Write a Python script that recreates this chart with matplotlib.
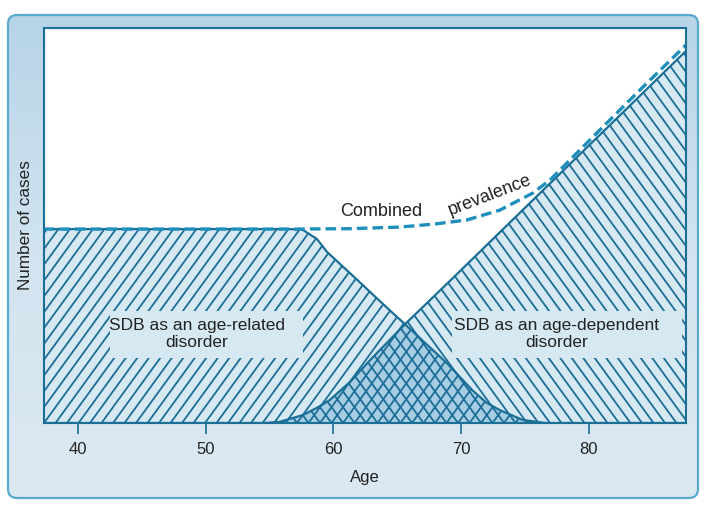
import numpy as np
import matplotlib
matplotlib.use("Agg")
import matplotlib.pyplot as plt
from matplotlib.patches import Polygon, FancyBboxPatch, Rectangle
from matplotlib.collections import LineCollection
from matplotlib.colors import LinearSegmentedColormap

plt.rcParams['font.family'] = ['Liberation Sans', 'DejaVu Sans']

# ---------------- data ----------------
related_age = [37.3, 50.0, 56.6, 57.6, 58.7, 59.5, 60.5, 61.84, 63.09, 64.42, 65.6,
               68.9, 70.9, 72.0, 73.0, 74.8, 76.6, 87.6]
related_val = [4.91, 4.91, 4.91, 4.89, 4.66, 4.33, 4.03, 3.63, 3.25, 2.85, 2.50,
               1.51, 0.82, 0.51, 0.33, 0.08, 0.0, 0.0]

dependent_age = [37.3, 54.6, 55.8, 57.6, 58.8, 59.7, 61.3, 62.86, 65.6, 69.35, 87.6]
dependent_val = [0.0, 0.0, 0.03, 0.20, 0.40, 0.58, 1.04, 1.59, 2.50, 3.67, 9.42]

combined_age = [37.3, 57.4, 61.3, 65.2, 68.0, 70.45, 73.03, 75.6, 76.95, 80.86, 83.99, 87.6]
combined_val = [4.91, 4.91, 4.92, 4.96, 5.04, 5.14, 5.39, 5.82, 6.15, 7.42, 8.43, 9.57]

x_ticks = [40, 50, 60, 70, 80]
x_tick_labels = ['40', '50', '60', '70', '80']

# ---------------- styling ----------------
DARK = '#1b6e96'
DASH = '#1e90bb'
LIGHT_FILL = '#d6e9f3'
OVERLAP_FILL = '#a6cde2'
TEXT = '#222222'

W_PX, H_PX = 704, 518
fig = plt.figure(figsize=(W_PX / 100, H_PX / 100), dpi=100)

# background panel with gradient
bg = fig.add_axes([0, 0, 1, 1])
bg.set_xlim(0, W_PX)
bg.set_ylim(H_PX, 0)
bg.axis('off')
panel = FancyBboxPatch((8, 15), 690, 483, boxstyle="round,pad=0,rounding_size=9",
                       facecolor='none', edgecolor='#5aaad0', linewidth=1.6, zorder=3)
bg.add_patch(panel)
cmap = LinearSegmentedColormap.from_list('g', ['#b7d4e8', '#d2e4f0', '#dbe9f2'])
grad = np.linspace(0, 1, 256).reshape(-1, 1)
im = bg.imshow(grad, cmap=cmap, extent=(8, 698, 498, 15), aspect='auto', zorder=1)
clip = FancyBboxPatch((8, 15), 690, 483, boxstyle="round,pad=0,rounding_size=9",
                      facecolor='none', edgecolor='none', transform=bg.transData)
im.set_clip_path(clip)

# main axes
ax_l, ax_r, ax_t, ax_b = 44, 686, 28, 423
ax = fig.add_axes([ax_l / W_PX, 1 - ax_b / H_PX, (ax_r - ax_l) / W_PX, (ax_b - ax_t) / H_PX])
ax.set_facecolor('white')
ax.set_xlim(37.34, 87.6)
ax.set_ylim(0, 10)
AXW, AXH = ax_r - ax_l, ax_b - ax_t


def area_patch(xs, ys, fc, z):
    verts = [(xs[0], 0)] + list(zip(xs, ys)) + [(xs[-1], 0)]
    p = Polygon(verts, closed=True, facecolor=fc, edgecolor='none', zorder=z)
    ax.add_patch(p)
    return p


def hatch(patch, angle_deg, spacing, z):
    a = np.deg2rad(angle_deg)
    dx = AXH / np.tan(a)
    segs = []
    for k in range(-80, 140):
        x0 = k * spacing
        segs.append([(x0 / AXW, 0), ((x0 + dx) / AXW, 1)])
    lc = LineCollection(segs, colors=DARK, linewidths=1.3, transform=ax.transAxes, zorder=z)
    lc.set_clip_path(patch)
    ax.add_collection(lc)


rel = area_patch(related_age, related_val, LIGHT_FILL, 1)
dep = area_patch(dependent_age, dependent_val, LIGHT_FILL, 1)

# overlap region (min of both curves) drawn from the two series
ov_x = sorted(set(related_age) | set(dependent_age))
ov_y = np.minimum(np.interp(ov_x, related_age, related_val), np.interp(ov_x, dependent_age, dependent_val))
ov = area_patch(ov_x, ov_y, OVERLAP_FILL, 2)

hatch(rel, 54, 11.5, 3)
hatch(dep, 126, 11.5, 3)

ax.plot(related_age, related_val, color=DARK, lw=1.6, zorder=4, solid_joinstyle='round')
ax.plot(dependent_age, dependent_val, color=DARK, lw=1.6, zorder=4, solid_joinstyle='round')
ax.plot(combined_age, combined_val, color=DASH, lw=2.4, dashes=(3.2, 1.5), zorder=5)

# label boxes
for (x0, x1) in [(110, 303), (452, 682)]:
    ax.add_patch(Rectangle(((x0 - ax_l) / AXW, (ax_b - 358) / AXH), (x1 - x0) / AXW, 47 / AXH,
                           transform=ax.transAxes, facecolor=LIGHT_FILL, edgecolor='none', zorder=6))
ax.text((197 - ax_l) / AXW, (ax_b - 334) / AXH, 'SDB as an age-related\ndisorder', transform=ax.transAxes,
        ha='center', va='center', fontsize=12.5, color=TEXT, zorder=7, linespacing=1.12)
ax.text((557 - ax_l) / AXW, (ax_b - 334) / AXH, 'SDB as an age-dependent\ndisorder', transform=ax.transAxes,
        ha='center', va='center', fontsize=12.5, color=TEXT, zorder=7, linespacing=1.12)

ax.text((381 - ax_l) / AXW, (ax_b - 211) / AXH, 'Combined', transform=ax.transAxes,
        ha='center', va='center', fontsize=13, color=TEXT, zorder=7)
ax.text((490 - ax_l) / AXW, (ax_b - 195) / AXH, 'prevalence', transform=ax.transAxes,
        ha='center', va='center', fontsize=13, color=TEXT, rotation=21, zorder=7)

# axes styling
for s in ax.spines.values():
    s.set_color(DARK)
    s.set_linewidth(1.5)
    s.set_zorder(8)
ax.set_xticks(x_ticks)
ax.set_xticklabels(x_tick_labels)
ax.set_yticks([])
ax.tick_params(axis='x', direction='out', length=8, width=1.2, color=DARK, labelsize=12,
               labelcolor=TEXT, pad=6)
ax.set_xlabel('Age', fontsize=12, color=TEXT, labelpad=9)
ax.set_ylabel('Number of cases', fontsize=12.3, color=TEXT, labelpad=8)

fig.savefig('out.png', dpi=100)
